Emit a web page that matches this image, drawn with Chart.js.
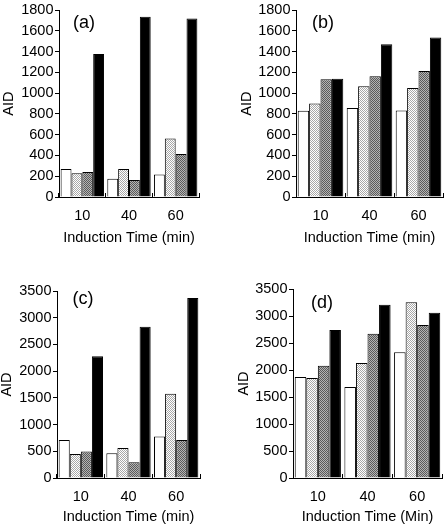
<!DOCTYPE html>
<html>
<head>
<meta charset="utf-8">
<script src="https://cdn.jsdelivr.net/npm/chart.js@4.4.1/dist/chart.umd.min.js"></script>
<style>
  html, body { margin:0; padding:0; background:#fff; }
  #wrap { position:relative; width:445px; height:526px; overflow:hidden; }
  canvas { position:absolute; }
  .tag { position:absolute; font-family:"Liberation Sans", Arial, sans-serif; font-size:18px; color:#000; transform:translate(-50%,-50%); line-height:1; white-space:nowrap; }
</style>
</head>
<body>
<div id="wrap">
  <canvas id="ca" width="222" height="250" style="left:0;top:0"></canvas>
  <canvas id="cb" width="223" height="250" style="left:222px;top:0"></canvas>
  <canvas id="cc" width="222" height="266" style="left:0;top:260px"></canvas>
  <canvas id="cd" width="223" height="266" style="left:222px;top:260px"></canvas>
  <div class="tag" style="left:84px;top:22px">(a)</div>
  <div class="tag" style="left:323px;top:22px">(b)</div>
  <div class="tag" style="left:83px;top:298px">(c)</div>
  <div class="tag" style="left:322px;top:302px">(d)</div>
</div>
<script>
// ---- data ----
const categories = ['10', '40', '60'];

const aWhite = [270, 175, 218];
const aLight = [228, 269, 564];
const aDark  = [241, 165, 415];
const aBlack = [1378, 1736, 1720];

const bWhite = [830, 858, 833];
const bLight = [900, 1067, 1051];
const bDark  = [1134, 1163, 1214];
const bBlack = [1140, 1473, 1537];

const cWhite = [710, 461, 778];
const cLight = [448, 560, 1575];
const cDark  = [498, 293, 710];
const cBlack = [2279, 2833, 3369];

const dWhite = [1870, 1685, 2330];
const dLight = [1852, 2130, 3253];
const dDark  = [2080, 2673, 2833];
const dBlack = [2741, 3210, 3062];

const yTitle = 'AID';
const xTitleA = 'Induction Time (min)';
const xTitleD = 'Induction Time (Min)';

// ---- patterns ----
function makePattern(c1, c2) {
  const t = document.createElement('canvas');
  t.width = 2; t.height = 2;
  const g = t.getContext('2d');
  g.fillStyle = c1; g.fillRect(0, 0, 2, 2);
  g.fillStyle = c2; g.fillRect(0, 0, 1, 1); g.fillRect(1, 1, 1, 1);
  return g.createPattern(t, 'repeat');
}
const lightPat = makePattern('#ffffff', '#a8a8a8');
const darkPat = makePattern('#b4b4b4', '#5a5a5a');

const FONT = "'Liberation Sans', Arial, sans-serif";
const TICK = 14.5, TITLE = 14.5;

function makeChart(id, p) {
  const series = [
    { data: p.white, backgroundColor: '#ffffff' },
    { data: p.light, backgroundColor: lightPat },
    { data: p.dark, backgroundColor: darkPat },
    { data: p.black, backgroundColor: '#000000' }
  ].map(s => Object.assign(s, {
    borderColor: '#000', borderWidth: 1,
    categoryPercentage: 0.93, barPercentage: 1.0
  }));
  const el = document.getElementById(id);
  const H = el.height, W = el.width;
  const lh = TITLE * 1.2;
  const tlh = TICK * 1.2;
  const padLeft = p.titleX - lh / 2;
  const padBottom = H - (p.xTitleY + lh / 2);
  new Chart(el, {
    type: 'bar',
    data: { labels: categories, datasets: series },
    options: {
      responsive: false,
      animation: false,
      events: [],
      layout: { padding: { left: padLeft, right: W - p.right, top: p.top, bottom: padBottom } },
      plugins: { legend: { display: false }, tooltip: { enabled: false } },
      scales: {
        x: {
          type: 'category',
          offset: true,
          border: { display: true, color: '#000', width: 1 },
          grid: { drawOnChartArea: false, drawTicks: true, tickLength: -4, color: '#000', offset: true },
          ticks: { color: '#000', font: { family: FONT, size: TICK }, padding: 23 - tlh / 2, maxRotation: 0 },
          title: { display: true, text: p.xTitle, color: '#000', font: { family: FONT, size: TITLE }, padding: { top: 0, bottom: 0 } },
          afterFit: s => { s.height = (H - padBottom) - p.bottom; }
        },
        y: {
          min: 0, max: p.max,
          border: { display: true, color: '#000', width: 1 },
          grid: { drawOnChartArea: false, drawTicks: true, tickLength: 4, color: '#000' },
          ticks: { color: '#000', font: { family: FONT, size: TICK }, padding: 1.5, stepSize: p.step,
                   autoSkip: false, callback: v => String(v) },
          title: { display: true, text: yTitle, color: '#000', font: { family: FONT, size: TITLE }, padding: { top: 0, bottom: 0 } },
          afterFit: s => { s.width = p.left - padLeft; }
        }
      }
    }
  });
}

makeChart('ca', { white: aWhite, light: aLight, dark: aDark, black: aBlack, max: 1800, step: 200,
  left: 59, right: 199, top: 8, bottom: 197, titleX: 9, xTitleY: 238, xTitle: xTitleA });
makeChart('cb', { white: bWhite, light: bLight, dark: bDark, black: bBlack, max: 1800, step: 200,
  left: 74, right: 221, top: 9, bottom: 197, titleX: 25, xTitleY: 238, xTitle: xTitleA });
makeChart('cc', { white: cWhite, light: cLight, dark: cDark, black: cBlack, max: 3500, step: 500,
  left: 57, right: 200, top: 31, bottom: 218, titleX: 7, xTitleY: 257, xTitle: xTitleA });
makeChart('cd', { white: dWhite, light: dLight, dark: dDark, black: dBlack, max: 3500, step: 500,
  left: 71, right: 220, top: 29, bottom: 218, titleX: 22, xTitleY: 257, xTitle: xTitleD });
</script>
</body>
</html>
